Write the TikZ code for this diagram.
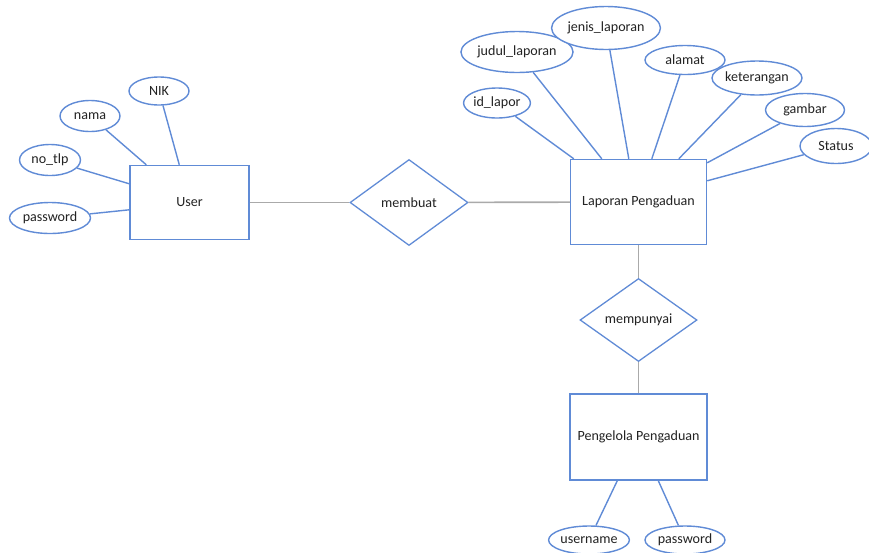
\documentclass[tikz,border=0pt]{standalone}
\usepackage{fontspec}
\setmainfont{Carlito}
\definecolor{erblue}{RGB}{96, 139, 214}
\definecolor{linkgray}{RGB}{170, 170, 170}
\definecolor{textdark}{RGB}{35, 35, 35}
\usepackage{tikz}
\usetikzlibrary{shapes.geometric, positioning, calc}
\tikzset{
    entitybox/.style={
        rectangle,
        draw=erblue,
        line width=1.2pt,
        fill=white,
        align=center,
        text=textdark,
        font=\fontsize{12}{14}\selectfont
    },
    relbox/.style={
        diamond,
        draw=erblue,
        line width=1.1pt,
        fill=white,
        aspect=1.4,
        inner sep=0pt,
        text=textdark,
        font=\fontsize{12}{14}\selectfont
    },
    attrbox/.style={
        ellipse,
        draw=erblue,
        line width=1.2pt,
        fill=white,
        inner sep=0pt,
        text=textdark,
        font=\fontsize{12}{14}\selectfont
    },
    linkline/.style={draw=linkgray, line width=1.4pt},
    attrline/.style={draw=erblue, line width=1.2pt}
}

\begin{document}
\begin{tikzpicture}[x=0.03cm, y=-0.03cm]
          \useasboundingbox (0,0) rectangle (869,552);
          % entities and relations
          \node[entitybox, minimum width=119*0.03cm, minimum height=74*0.03cm] (user) at (189.5,202.5) {User};
          \node[relbox, minimum width=118*0.03cm, minimum height=86*0.03cm] (membuat) at (409,202.5) {membuat};
          \node[entitybox, minimum width=136*0.03cm, minimum height=85*0.03cm] (laporan) at (638.5,202) {Laporan Pengaduan};
          \node[relbox, minimum width=117*0.03cm, minimum height=83*0.03cm] (mempunyai) at (638.5,320) {mempunyai};
          \node[entitybox, minimum width=137*0.03cm, minimum height=86*0.03cm] (pengelola) at (638.5,437) {Pengelola Pengaduan};

          % attributes of User
          \node[attrbox, minimum width=60*0.03cm, minimum height=28*0.03cm] (nik) at (159,91) {NIK};
          \node[attrbox, minimum width=60*0.03cm, minimum height=31*0.03cm] (nama) at (90,116) {nama};
          \node[attrbox, minimum width=61*0.03cm, minimum height=31*0.03cm] (notlp) at (50,160) {no\_tlp};
          \node[attrbox, minimum width=81*0.03cm, minimum height=31*0.03cm] (userpass) at (50,218) {password};

          % attributes of Laporan Pengaduan
          \node[attrbox, minimum width=60*0.03cm, minimum height=30*0.03cm] (idlapor) at (497,103) {id\_lapor};
          \node[attrbox, minimum width=100*0.03cm, minimum height=41*0.03cm] (judul) at (517,52) {judul\_laporan};
          \node[attrbox, minimum width=100*0.03cm, minimum height=43*0.03cm] (jenis) at (606,28) {jenis\_laporan};
          \node[attrbox, minimum width=80*0.03cm, minimum height=29*0.03cm] (alamat) at (685,60) {alamat};
          \node[attrbox, minimum width=80*0.03cm, minimum height=34*0.03cm] (keterangan) at (757,78) {keterangan};
          \node[attrbox, minimum width=79*0.03cm, minimum height=33*0.03cm] (gambar) at (805,110) {gambar};
          \node[attrbox, minimum width=72*0.03cm, minimum height=35*0.03cm] (status) at (836,146) {Status};

          % attributes of Pengelola Pengaduan
          \node[attrbox, minimum width=80*0.03cm, minimum height=28*0.03cm] (username) at (589,540) {username};
          \node[attrbox, minimum width=80*0.03cm, minimum height=28*0.03cm] (adminpass) at (685,540) {password};

          % relation lines
          \draw[linkline] (user) -- (membuat);
          \draw[linkline] (membuat) -- (laporan);
          \draw[linkline] (laporan) -- (mempunyai);
          \draw[linkline] (mempunyai) -- (pengelola);

          % attribute lines
          \draw[attrline] (nik) -- ($(user.north west)+(50,0)$);
          \draw[attrline] (nama) -- ($(user.north west)+(17,0)$);
          \draw[attrline] (notlp) -- ($(user.north west)+(0,19)$);
          \draw[attrline] (userpass) -- ($(user.north west)+(0,45)$);
          \draw[attrline] (idlapor) -- ($(laporan.north west)+(4,0)$);
          \draw[attrline] (judul) -- ($(laporan.north west)+(32,0)$);
          \draw[attrline] (jenis) -- ($(laporan.north west)+(59,0)$);
          \draw[attrline] (alamat) -- ($(laporan.north west)+(82,0)$);
          \draw[attrline] (keterangan) -- ($(laporan.north west)+(109,0)$);
          \draw[attrline] (gambar) -- ($(laporan.north east)+(0,4)$);
          \draw[attrline] (status) -- ($(laporan.north east)+(0,22)$);
          \draw[attrline] (username) -- ($(pengelola.south west)+(48,0)$);
          \draw[attrline] (adminpass) -- ($(pengelola.south west)+(89,0)$);
        \end{tikzpicture}
\end{document}
